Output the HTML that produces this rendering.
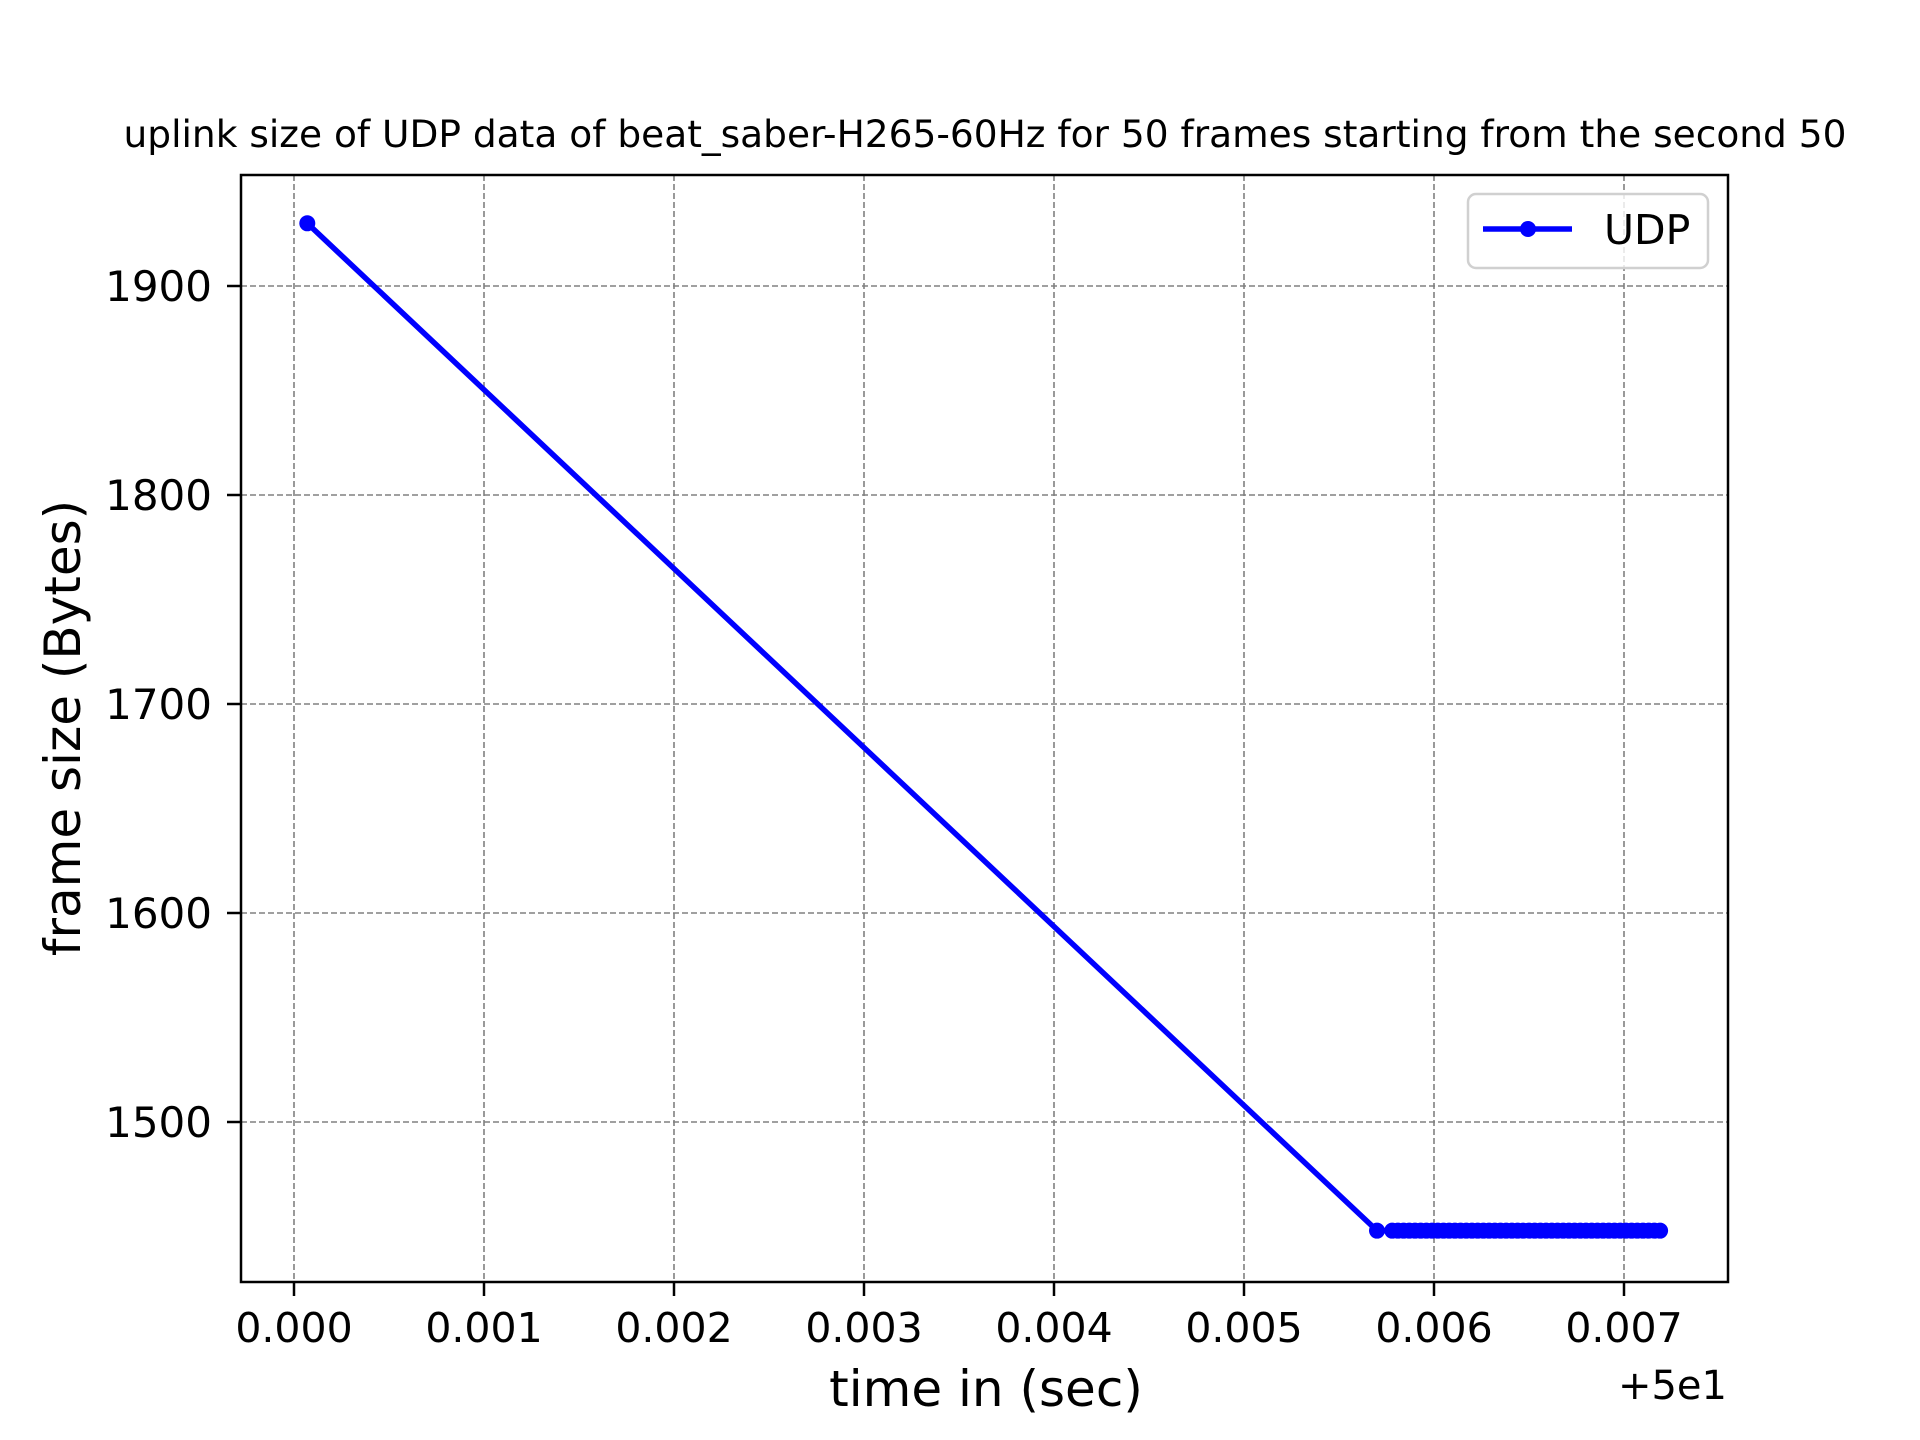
<!DOCTYPE html>
<html><head><meta charset="utf-8"><style>
html,body{margin:0;padding:0;background:#fff;}
svg{display:block;font-family:"DejaVu Sans","Liberation Sans",sans-serif;}
</style></head><body>
<svg id="chart" width="1920" height="1440" viewBox="0 0 1920 1440">
<rect width="1920" height="1440" fill="#fff"/>
<g id="grid"></g>
<g id="series"></g>
<rect x="241" y="175" width="1487" height="1107" fill="none" stroke="#000" stroke-width="2.5"/>
<g id="ticks"></g>
<text x="985" y="147" font-size="37.5" text-anchor="middle">uplink size of UDP data of beat_saber-H265-60Hz for 50 frames starting from the second 50</text>
<text x="986" y="1406" font-size="50" text-anchor="middle">time in (sec)</text>
<text x="1727" y="1399" font-size="40" text-anchor="end">+5e1</text>
<text transform="translate(80,728) rotate(-90)" font-size="50" text-anchor="middle">frame size (Bytes)</text>
<g>
<rect x="1468" y="194" width="240" height="74" rx="8" fill="#fff" fill-opacity="0.8" stroke="#d0d0d0" stroke-width="2.5"/>
<line x1="1483" y1="229" x2="1572" y2="229" stroke="#0000ff" stroke-width="5.5"/>
<circle cx="1528" cy="229" r="8" fill="#0000ff"/>
<text x="1604" y="244" font-size="41">UDP</text>
</g>
</svg>
<script>
const xTicks=[0,0.001,0.002,0.003,0.004,0.005,0.006,0.007];
const xTickLabels=["0.000","0.001","0.002","0.003","0.004","0.005","0.006","0.007"];
const yTicks=[1500,1600,1700,1800,1900];
const yTickLabels=["1500","1600","1700","1800","1900"];
const times=[0.00007,0.00570,0.00578,0.00581,0.00584,0.00587,0.00590,0.00593,0.00596,0.00599,0.00602,0.00605,0.00608,0.00611,0.00614,0.00617,0.00620,0.00623,0.00626,0.00629,0.00632,0.00635,0.00638,0.00641,0.00644,0.00647,0.00650,0.00653,0.00656,0.00659,0.00662,0.00665,0.00668,0.00671,0.00674,0.00677,0.00680,0.00683,0.00686,0.00689,0.00692,0.00695,0.00698,0.00701,0.00704,0.00707,0.00710,0.00713,0.00716,0.00719];
const sizes=[1930,1448,1448,1448,1448,1448,1448,1448,1448,1448,1448,1448,1448,1448,1448,1448,1448,1448,1448,1448,1448,1448,1448,1448,1448,1448,1448,1448,1448,1448,1448,1448,1448,1448,1448,1448,1448,1448,1448,1448,1448,1448,1448,1448,1448,1448,1448,1448,1448,1448];
const NS="http://www.w3.org/2000/svg";
const X=v=>294+v*190000;
const Y=v=>286+(1900-v)*2.09;
function mk(tag,attrs,parent){const e=document.createElementNS(NS,tag);for(const k in attrs)e.setAttribute(k,attrs[k]);parent.appendChild(e);return e;}
const grid=document.getElementById('grid'),ticks=document.getElementById('ticks'),series=document.getElementById('series');
xTicks.forEach((t,i)=>{
  const g=mk('line',{x1:X(t),x2:X(t),y1:175,y2:1282,stroke:'#808080','stroke-width':1.6,'stroke-dasharray':'6,3'},grid);
  
  
  const tk=mk('line',{x1:X(t),x2:X(t),y1:1282,y2:1296,stroke:'#000','stroke-width':2.5},ticks);
  
  
  const tx=mk('text',{x:X(t),y:1342,'font-size':41,'text-anchor':'middle'},ticks);
  tx.textContent=xTickLabels[i];
  
  
});
yTicks.forEach((t,i)=>{
  const g=mk('line',{x1:241,x2:1728,y1:Y(t),y2:Y(t),stroke:'#808080','stroke-width':1.6,'stroke-dasharray':'6,3'},grid);
  
  
  const tk=mk('line',{x1:227,x2:241,y1:Y(t),y2:Y(t),stroke:'#000','stroke-width':2.5},ticks);
  
  
  const tx=mk('text',{x:212,y:Y(t)+15,'font-size':42,'text-anchor':'end'},ticks);
  tx.textContent=yTickLabels[i];
  
  
});
const pts=times.map((t,i)=>X(t)+','+Y(sizes[i])).join(' ');
const pl=mk('polyline',{points:pts,fill:'none',stroke:'#0000ff','stroke-width':5.5,'stroke-linejoin':'round'},series);


times.forEach((t,i)=>{
  const c=mk('circle',{cx:X(t),cy:Y(sizes[i]),r:8,fill:'#0000ff'},series);
  
  
});
</script>
</body></html>
